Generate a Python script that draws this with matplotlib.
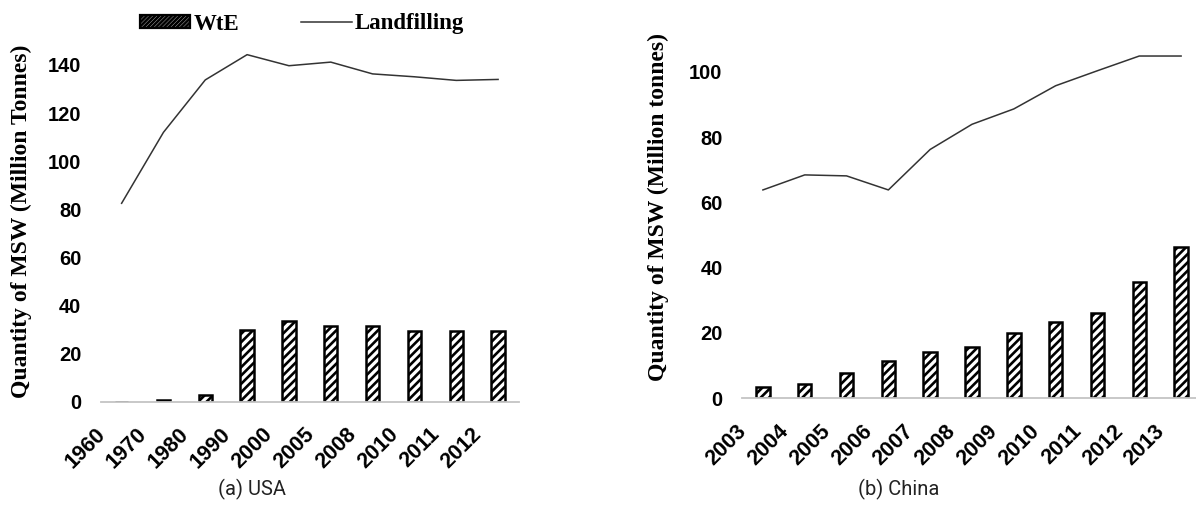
import matplotlib
matplotlib.use("Agg")
import matplotlib.pyplot as plt
import matplotlib.transforms as mtransforms
from matplotlib.patches import Patch
from matplotlib.lines import Line2D
import numpy as np

# USA data (million tonnes)
usa_years = ["1960", "1970", "1980", "1990", "2000", "2005", "2008", "2010", "2011", "2012"]
usa_wte = [0, 0.6, 2.8, 30.0, 33.7, 31.6, 31.6, 29.5, 29.5, 29.5]
usa_landfill = [82.5, 112, 133.8, 144.3, 139.7, 141.2, 136.3, 135.1, 133.6, 134.0]

# China data (million tonnes)
china_years = ["2003", "2004", "2005", "2006", "2007", "2008", "2009", "2010", "2011", "2012", "2013"]
china_wte = [3.6, 4.4, 7.8, 11.4, 14.1, 15.8, 20.0, 23.3, 26.0, 35.7, 46.4]
china_landfill = [63.8, 68.4, 68.1, 63.8, 76.2, 83.9, 88.6, 95.7, 100.3, 104.8, 104.8]

plt.rcParams['hatch.linewidth'] = 1.9
plt.rcParams['hatch.color'] = 'black'

W, H = 1196, 505
fig = plt.figure(figsize=(W / 100, H / 100), dpi=100)

ytick_font = dict(family='Liberation Sans', weight='bold', size=14.5)
xtick_font = dict(family='Liberation Sans', weight='bold', size=15.5)
label_font = dict(family='Liberation Serif', weight='bold', size=17)


def make_panel(rect, years, wte, landfill, ymax, yticks, ylabel, label_xy, caption, cap_x):
    ax = fig.add_axes(rect)
    x = np.arange(len(years))
    ax.bar(x, wte, width=0.32, color='white', edgecolor='black',
           linewidth=1.8, hatch='////', zorder=2)
    ax.plot(x, landfill, color='#333333', lw=1.1, zorder=3)
    ax.set_xlim(-0.5, len(years) - 0.5)
    ax.set_ylim(0, ymax)
    ax.set_yticks(yticks)
    ax.set_yticklabels([str(t) for t in yticks], fontdict=ytick_font)
    ax.set_xticks(x)
    ax.set_xticklabels(years, fontdict=xtick_font, rotation=45, ha='right')
    ax.tick_params(axis='both', length=0)
    ax.tick_params(axis='y', pad=14)
    ax.tick_params(axis='x', pad=16)
    off = mtransforms.ScaledTranslation(-12 / 100, 0, fig.dpi_scale_trans)
    for lab in ax.get_xticklabels():
        lab.set_transform(lab.get_transform() + off)
    for s in ['top', 'right', 'left']:
        ax.spines[s].set_visible(False)
    ax.spines['bottom'].set_color('#c4c4c4')
    ax.spines['bottom'].set_linewidth(1.3)
    fig.text(label_xy[0] / W, 1 - label_xy[1] / H, ylabel, rotation=90,
             ha='center', va='center', **label_font)
    fig.text(cap_x / W, 1 - 489 / H, caption, ha='center', va='center',
             family='Roboto', size=14.5, color='#222222')
    return ax


ax1 = make_panel([100.7 / W, 1 - 401.7 / H, 418.3 / W, 150 * 2.405 / H],
                 usa_years, usa_wte, usa_landfill, 150, [0, 20, 40, 60, 80, 100, 120, 140],
                 "Quantity of MSW (Million Tonnes)", (21, 221), "(a) USA", 252)
ax2 = make_panel([742 / W, 1 - 398.3 / H, 460 / W, 110 * 3.266 / H],
                 china_years, china_wte, china_landfill, 110, [0, 20, 40, 60, 80, 100],
                 "Quantity of MSW (Million tonnes)", (658, 207), "(b) China", 899)

handles = [Patch(facecolor='white', edgecolor='black', hatch='////////', linewidth=1.6),
           Line2D([0], [0], color='#333333', lw=1.1)]
leg = fig.legend(handles, ["WtE", "Landfilling"], loc='center', ncol=2, frameon=False,
                 bbox_to_anchor=(302 / W, 1 - 24 / H), handlelength=2.2, handleheight=0.5,
                 handletextpad=0.15, columnspacing=2.7,
                 prop=dict(family='Liberation Serif', weight='bold', size=16.5))

fig.savefig("out.png", dpi=100)
